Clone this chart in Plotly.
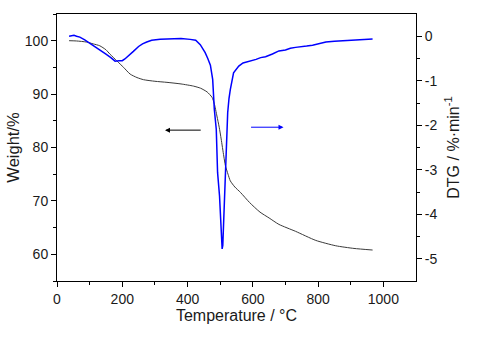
import plotly.graph_objects as go

# TG curve (weight %) vs temperature
tg_temp = [37, 60, 90, 111, 131, 150, 162, 183, 204, 224, 245, 265, 300, 337, 380, 418,
           440, 460, 475, 482, 490, 497, 503, 511, 516, 524, 531, 545, 562, 590, 622,
           650, 680, 731, 793, 854, 910, 967]
tg_weight = [100, 99.95, 99.75, 99.4, 99.05, 98.3, 97.5, 96.25, 95.0, 93.75, 93.1, 92.7,
             92.4, 92.2, 91.9, 91.5, 91.1, 90.4, 89.4, 88.2, 85.9, 83.8, 81.6, 78.4, 76.6,
             75.0, 73.75, 72.6, 71.6, 69.7, 67.9, 66.8, 65.6, 64.3, 62.6, 61.6, 61.1, 60.8]

# DTG curve (%/min) vs temperature
dtg_temp = [37, 45, 52, 60, 70, 85, 100, 115, 131, 150, 165, 178, 190, 200, 208, 220, 234,
            250, 262, 275, 290, 316, 350, 380, 408, 425, 439, 454, 462, 470, 477, 482,
            488, 490, 492, 498, 501, 504, 506, 508, 511, 514, 516, 519, 523, 527, 531,
            541, 557, 570, 593, 610, 624, 639, 660, 680, 700, 715, 731, 750, 765, 783,
            800, 824, 850, 885, 920, 967]
dtg_value = [0.0, 0.02, 0.02, 0.0, -0.02, -0.08, -0.15, -0.22, -0.3, -0.4, -0.48, -0.56,
             -0.55, -0.55, -0.51, -0.44, -0.34, -0.23, -0.17, -0.13, -0.09, -0.07, -0.06,
             -0.05, -0.07, -0.09, -0.19, -0.37, -0.5, -0.65, -0.97, -1.64, -2.09, -2.76,
             -3.06, -3.59, -4.11, -4.48, -4.78, -4.7, -4.04, -3.51, -3.06, -2.54, -1.72,
             -1.4, -1.2, -0.82, -0.67, -0.6, -0.56, -0.52, -0.48, -0.46, -0.4, -0.33,
             -0.31, -0.27, -0.25, -0.24, -0.22, -0.2, -0.17, -0.13, -0.11, -0.09, -0.08,
             -0.06]

# Arrow annotations (data coords on x / y)
arrow_tg = dict(head_x=331, tail_x=445, y=83.25)
arrow_dtg = dict(head_x=694, tail_x=590, y=83.8)

FONT = "Liberation Sans, Arial, sans-serif"
TXT = "#1a1a1a"

fig = go.Figure()
fig.add_trace(go.Scatter(x=tg_temp, y=tg_weight, mode="lines",
                         line=dict(color="#3a3a3a", width=1, shape="spline", smoothing=0.6),
                         yaxis="y", showlegend=False))
fig.add_trace(go.Scatter(x=dtg_temp, y=dtg_value, mode="lines",
                         line=dict(color="#0000ff", width=1.5),
                         yaxis="y2", showlegend=False))

fig.add_annotation(x=arrow_tg["head_x"], y=arrow_tg["y"], ax=arrow_tg["tail_x"], ay=arrow_tg["y"],
                   xref="x", yref="y", axref="x", ayref="y", text="", showarrow=True,
                   arrowhead=2, arrowsize=1, arrowwidth=1, arrowcolor="black")
fig.add_annotation(x=arrow_dtg["head_x"], y=arrow_dtg["y"], ax=arrow_dtg["tail_x"], ay=arrow_dtg["y"],
                   xref="x", yref="y", axref="x", ayref="y", text="", showarrow=True,
                   arrowhead=2, arrowsize=1, arrowwidth=1, arrowcolor="#0000ff")

axis_common = dict(showline=True, linecolor="black", linewidth=1, ticks="outside",
                   ticklen=5, tickwidth=1, tickcolor="black", showgrid=False, zeroline=False,
                   tickfont=dict(family=FONT, size=14, color=TXT))

fig.update_layout(
    width=490, height=337,
    margin=dict(l=57, r=74, t=14, b=56),
    paper_bgcolor="white", plot_bgcolor="white",
    xaxis=dict(range=[0, 1100], tickvals=[0, 200, 400, 600, 800, 1000], mirror=True,
               minor=dict(tickvals=[100, 300, 500, 700, 900], ticklen=3, ticks="outside",
                          tickcolor="black"),
               title=dict(text="Temperature / °C", font=dict(family=FONT, size=16, color=TXT),
                          standoff=4),
               **axis_common),
    yaxis=dict(range=[55, 105], tickvals=[60, 70, 80, 90, 100],
               minor=dict(tickvals=[55, 65, 75, 85, 95, 105], ticklen=3, ticks="outside",
                          tickcolor="black"),
               title=dict(text="Weight/%", font=dict(family=FONT, size=16.5, color=TXT),
                          standoff=1),
               **axis_common),
    yaxis2=dict(range=[-5.5, 0.5], overlaying="y", side="right",
                tickvals=[0, -1, -2, -3, -4, -5],
                ticktext=["0", "-1", "-2", "-3", "-4", "-5"],
                minor=dict(tickvals=[-0.5, -1.5, -2.5, -3.5, -4.5], ticklen=3, ticks="outside",
                           tickcolor="black"),
                title=dict(text="DTG / %·min<sup>-1</sup>", font=dict(family=FONT, size=16, color=TXT),
                           standoff=11),
                **axis_common),
)

fig.write_html("out.html")
